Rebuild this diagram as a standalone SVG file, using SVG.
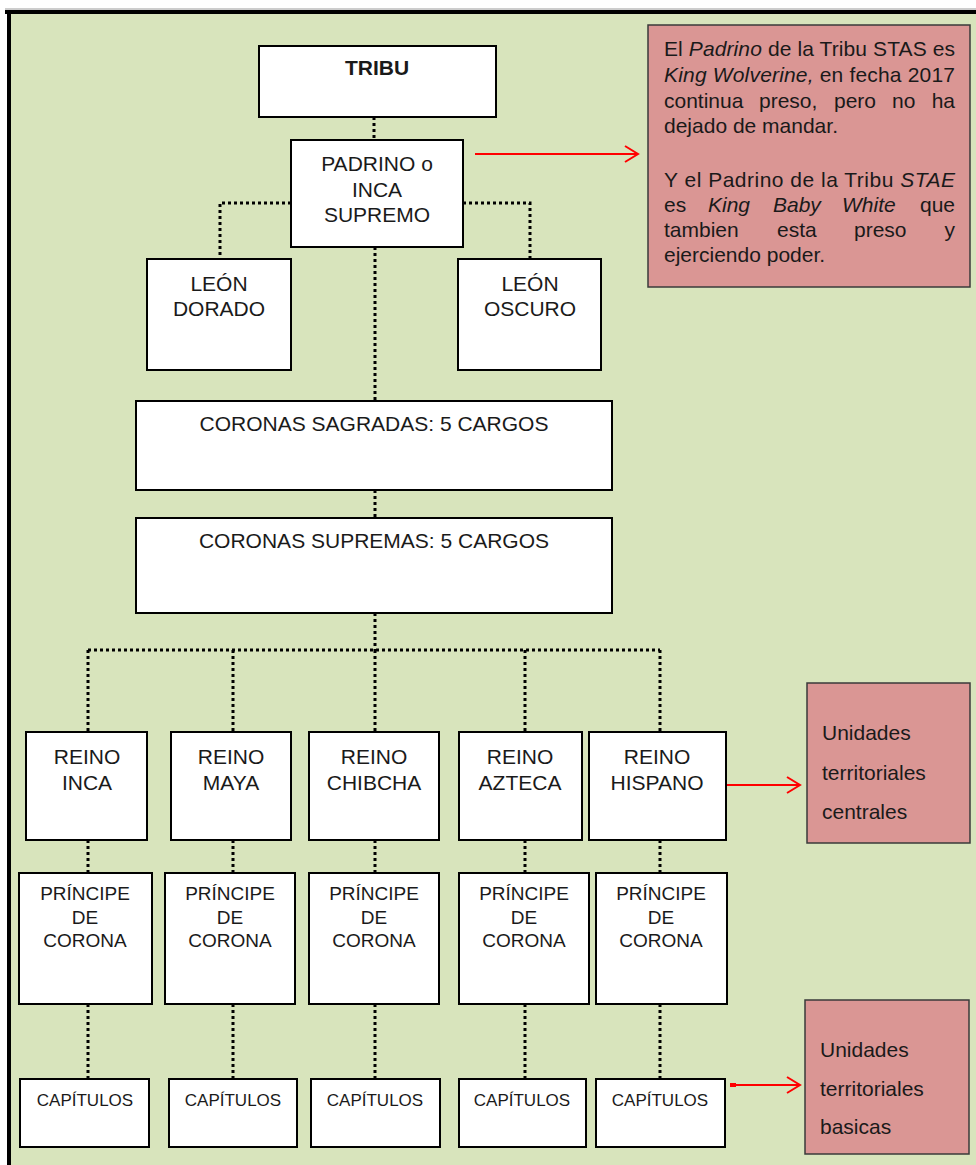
<svg xmlns="http://www.w3.org/2000/svg" width="976" height="1165" viewBox="0 0 976 1165">
<defs>
<style>
.bx{fill:#fff;stroke:#000;stroke-width:2}
.pk{fill:#DA9694;stroke:#3a3a3a;stroke-width:1.5}
.dot{fill:none;stroke:#000;stroke-width:3;stroke-dasharray:3 3}
.red{fill:none;stroke:#FF0000;stroke-width:2}
text{font-family:"Liberation Sans",Arial,sans-serif;fill:#1a1a1a}
.t21{font-size:21px;text-anchor:middle}
.t19{font-size:19px;text-anchor:middle}
.t17{font-size:17px;text-anchor:middle}
.nt{font-size:21px}
.it{font-style:italic}
</style>
<marker id="ah" viewBox="0 0 16 20" refX="14" refY="10" markerWidth="16" markerHeight="20" markerUnits="userSpaceOnUse" orient="auto">
<path d="M1,2 L14,10 L1,18" fill="none" stroke="#FF0000" stroke-width="2"/>
</marker>
</defs>
<rect x="0" y="0" width="976" height="1165" fill="#fff"/>
<rect x="9" y="12" width="967" height="1153" fill="#D8E4BC"/>
<line x1="5" y1="9" x2="976" y2="9" stroke="#9a9a9a" stroke-width="1"/>
<line x1="5" y1="12" x2="976" y2="12" stroke="#000" stroke-width="4"/>
<line x1="9" y1="10" x2="9" y2="1165" stroke="#000" stroke-width="4"/>

<g id="connectors">
<path class="dot" d="M374,117 V140"/>
<path class="dot" d="M291,203 H220 V259"/>
<path class="dot" d="M463,203 H530 V259"/>
<path class="dot" d="M375,247 V401"/>
<path class="dot" d="M375,490 V518"/>
<path class="dot" d="M375,613 V650"/>
<path class="dot" d="M88,650 H660"/>
<path class="dot" d="M88,650 V732 M233,650 V732 M375,650 V732 M525,650 V732 M660,650 V732"/>
<path class="dot" d="M88,840 V873 M233,840 V873 M375,840 V873 M525,840 V873 M660,840 V873"/>
<path class="dot" d="M88,1004 V1079 M233,1004 V1079 M375,1004 V1079 M525,1004 V1079 M660,1004 V1079"/>
<path class="red" d="M475,154 H638" marker-end="url(#ah)"/>
<path class="red" d="M727,785 H800" marker-end="url(#ah)"/>
<path class="red" d="M730,1085 H800" marker-end="url(#ah)"/>
<rect x="730" y="1083" width="6" height="4" fill="#FF0000"/>
</g>

<g id="tribu"><rect class="bx" x="259" y="46" width="237" height="71"/><text class="t21" x="377" y="75" font-weight="bold" font-size="20.5">TRIBU</text></g>
<g id="padrino"><rect class="bx" x="291" y="140" width="172" height="107"/><text class="t21" x="377" y="171">PADRINO o</text><text class="t21" x="377" y="197">INCA</text><text class="t21" x="377" y="222">SUPREMO</text></g>

<g id="nota1"><rect class="pk" x="648" y="25" width="322" height="262"/>
<text class="nt" x="664" y="56" textLength="291" lengthAdjust="spacing">El <tspan class="it">Padrino</tspan> de la Tribu STAS es</text>
<text class="nt" x="664" y="82" textLength="291" lengthAdjust="spacing"><tspan class="it">King Wolverine,</tspan> en fecha 2017</text>
<text class="nt" y="108"><tspan x="664">continua</tspan><tspan x="759">preso,</tspan><tspan x="834">pero</tspan><tspan x="892">no</tspan></text>
<text class="nt" x="955" y="108" text-anchor="end">ha</text>
<text class="nt" x="664" y="133">dejado de mandar.</text>
<text class="nt" x="664" y="187" textLength="291" lengthAdjust="spacing">Y el Padrino de la Tribu <tspan class="it">STAE</tspan></text>
<text class="nt" y="212"><tspan x="664">es</tspan><tspan x="708" class="it">King</tspan><tspan x="773" class="it">Baby</tspan><tspan x="842" class="it">White</tspan></text>
<text class="nt" x="955" y="212" text-anchor="end">que</text>
<text class="nt" y="237"><tspan x="664">tambien</tspan><tspan x="777">esta</tspan><tspan x="854">preso</tspan></text>
<text class="nt" x="955" y="237" text-anchor="end">y</text>
<text class="nt" x="664" y="262">ejerciendo poder.</text>
</g>

<g id="leon-dorado"><rect class="bx" x="147" y="259" width="144" height="111"/><text class="t21" x="219" y="291">LEÓN</text><text class="t21" x="219" y="316">DORADO</text></g>
<g id="leon-oscuro"><rect class="bx" x="458" y="259" width="143" height="111"/><text class="t21" x="530" y="291">LEÓN</text><text class="t21" x="530" y="316">OSCURO</text></g>

<g id="coronas-sagradas"><rect class="bx" x="136" y="401" width="476" height="89"/><text class="t21" x="374" y="431">CORONAS SAGRADAS: 5 CARGOS</text></g>
<g id="coronas-supremas"><rect class="bx" x="136" y="518" width="476" height="95"/><text class="t21" x="374" y="548">CORONAS SUPREMAS: 5 CARGOS</text></g>

<g id="reino-inca"><rect class="bx" x="26" y="732" width="121" height="108"/><text class="t21" x="87" y="764">REINO</text><text class="t21" x="87" y="790">INCA</text></g>
<g id="reino-maya"><rect class="bx" x="171" y="732" width="120" height="108"/><text class="t21" x="231" y="764">REINO</text><text class="t21" x="231" y="790">MAYA</text></g>
<g id="reino-chibcha"><rect class="bx" x="309" y="732" width="130" height="108"/><text class="t21" x="374" y="764">REINO</text><text class="t21" x="374" y="790">CHIBCHA</text></g>
<g id="reino-azteca"><rect class="bx" x="459" y="732" width="123" height="108"/><text class="t21" x="520" y="764">REINO</text><text class="t21" x="520" y="790">AZTECA</text></g>
<g id="reino-hispano"><rect class="bx" x="589" y="732" width="137" height="108"/><text class="t21" x="657" y="764">REINO</text><text class="t21" x="657" y="790">HISPANO</text></g>

<g id="nota2"><rect class="pk" x="807" y="683" width="163" height="160"/><text class="nt" x="822" y="740">Unidades</text><text class="nt" x="822" y="780">territoriales</text><text class="nt" x="822" y="819">centrales</text></g>

<g id="principe-1"><rect class="bx" x="19" y="873" width="133" height="131"/><text class="t19" x="85" y="900">PRÍNCIPE</text><text class="t19" x="85" y="924">DE</text><text class="t19" x="85" y="947">CORONA</text></g>
<g id="principe-2"><rect class="bx" x="165" y="873" width="130" height="131"/><text class="t19" x="230" y="900">PRÍNCIPE</text><text class="t19" x="230" y="924">DE</text><text class="t19" x="230" y="947">CORONA</text></g>
<g id="principe-3"><rect class="bx" x="309" y="873" width="130" height="131"/><text class="t19" x="374" y="900">PRÍNCIPE</text><text class="t19" x="374" y="924">DE</text><text class="t19" x="374" y="947">CORONA</text></g>
<g id="principe-4"><rect class="bx" x="459" y="873" width="130" height="131"/><text class="t19" x="524" y="900">PRÍNCIPE</text><text class="t19" x="524" y="924">DE</text><text class="t19" x="524" y="947">CORONA</text></g>
<g id="principe-5"><rect class="bx" x="596" y="873" width="131" height="131"/><text class="t19" x="661" y="900">PRÍNCIPE</text><text class="t19" x="661" y="924">DE</text><text class="t19" x="661" y="947">CORONA</text></g>

<g id="capitulos-1"><rect class="bx" x="20" y="1079" width="129" height="68"/><text class="t17" x="85" y="1106">CAPÍTULOS</text></g>
<g id="capitulos-2"><rect class="bx" x="169" y="1079" width="128" height="68"/><text class="t17" x="233" y="1106">CAPÍTULOS</text></g>
<g id="capitulos-3"><rect class="bx" x="311" y="1079" width="129" height="68"/><text class="t17" x="375" y="1106">CAPÍTULOS</text></g>
<g id="capitulos-4"><rect class="bx" x="459" y="1079" width="127" height="68"/><text class="t17" x="522" y="1106">CAPÍTULOS</text></g>
<g id="capitulos-5"><rect class="bx" x="596" y="1079" width="129" height="68"/><text class="t17" x="660" y="1106">CAPÍTULOS</text></g>

<g id="nota3"><rect class="pk" x="805" y="1000" width="164" height="154"/><text class="nt" x="820" y="1057">Unidades</text><text class="nt" x="820" y="1096">territoriales</text><text class="nt" x="820" y="1134">basicas</text></g>
</svg>
